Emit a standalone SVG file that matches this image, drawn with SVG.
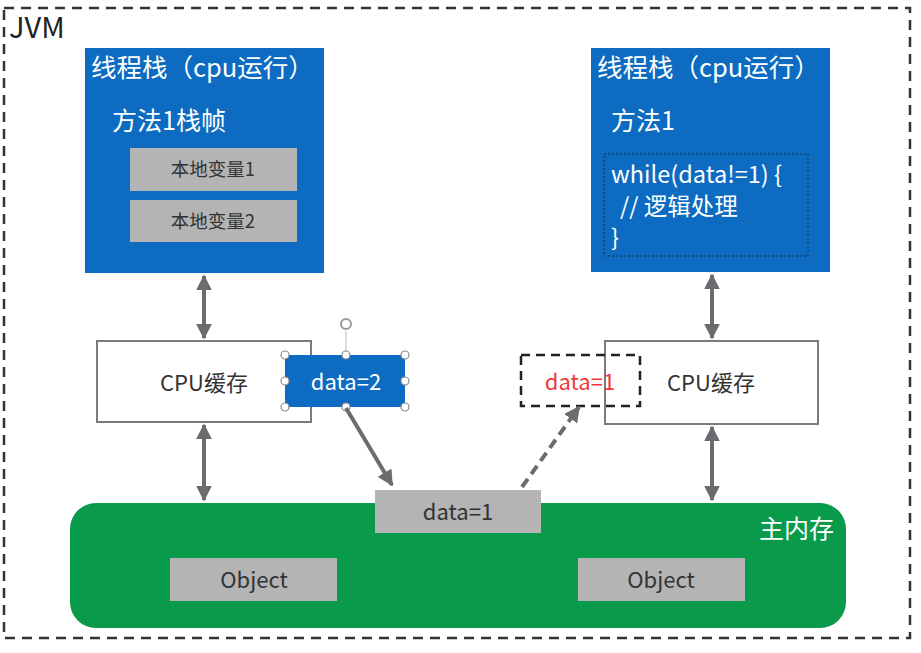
<svg xmlns="http://www.w3.org/2000/svg" width="921" height="653" viewBox="0 0 921 653">
<defs>
<style>
text{font-family:"Noto Sans CJK SC","Noto Sans",sans-serif}
.blue{fill:#0d6cc1}
.wt{fill:#ffffff}
.gray{fill:#b4b4b4}
.dk{fill:#333333}
.cpu{fill:#ffffff;stroke:#7a7a7a;stroke-width:2}
.conn{stroke:#6b6b70;stroke-width:4;fill:none}
.h{fill:#ffffff;stroke:#8a8a8a;stroke-width:1.2}
</style>
<marker id="ah" viewBox="0 0 10 10" refX="9" refY="5" markerWidth="4" markerHeight="4" orient="auto-start-reverse" markerUnits="strokeWidth">
<path d="M0,0 L10,5 L0,10 z" fill="#6b6b70"/>
</marker>
</defs>
<rect width="921" height="653" fill="#ffffff"/>
<g id="jvm">
<rect x="4" y="8" width="906" height="630" fill="none" stroke="#333" stroke-width="2.5" stroke-dasharray="10,7"/>
<text x="9" y="38" font-size="29" fill="#222">JVM</text>
</g>
<g id="stack-left">
<rect class="blue" x="85" y="48" width="239" height="225"/>
<text class="wt" x="91" y="77" font-size="25.5">线程栈（cpu运行）</text>
<text class="wt" x="112" y="130" font-size="25">方法1栈帧</text>
<rect class="gray" x="130" y="148" width="167" height="43"/>
<text class="dk" x="213" y="176" font-size="18.5" text-anchor="middle">本地变量1</text>
<rect class="gray" x="130" y="200" width="167" height="42"/>
<text class="dk" x="213" y="228" font-size="18.5" text-anchor="middle">本地变量2</text>
</g>
<g id="stack-right">
<rect class="blue" x="591" y="48" width="239" height="224"/>
<text class="wt" x="597" y="77" font-size="25.5">线程栈（cpu运行）</text>
<text class="wt" x="611" y="130" font-size="25">方法1</text>
<rect x="604" y="154" width="204" height="102" fill="none" stroke="#1a2a40" stroke-width="1" stroke-dasharray="2,2"/>
<text class="wt" x="611" y="183" font-size="23.5">while(data!=1) {</text>
<text class="wt" x="620" y="215" font-size="23.5">// 逻辑处理</text>
<text class="wt" x="611" y="246" font-size="23.5">}</text>
</g>
<g id="cpu-left">
<rect class="cpu" x="97" y="341" width="214" height="81"/>
<text class="dk" x="204" y="391" font-size="22" text-anchor="middle">CPU缓存</text>
</g>
<g id="cpu-right">
<rect class="cpu" x="605" y="341" width="213" height="83"/>
<text class="dk" x="711" y="391" font-size="22" text-anchor="middle">CPU缓存</text>
</g>
<g id="main-memory">
<rect x="70" y="503" width="776" height="125" rx="26" fill="#0a9a4c"/>
<text class="wt" x="834" y="538" font-size="25" text-anchor="end">主内存</text>
<rect class="gray" x="170" y="558" width="167" height="43"/>
<text class="dk" x="254" y="588" font-size="22" text-anchor="middle">Object</text>
<rect class="gray" x="578" y="558" width="167" height="43"/>
<text class="dk" x="661" y="588" font-size="22" text-anchor="middle">Object</text>
</g>
<g id="data-main">
<rect class="gray" x="375" y="490" width="166" height="43"/>
<text class="dk" x="458" y="520" font-size="22" text-anchor="middle">data=1</text>
</g>
<g id="data-left">
<line x1="346" y1="331" x2="346" y2="355" stroke="#bbb" stroke-width="1"/>
<circle cx="346" cy="324" r="5" fill="none" stroke="#999" stroke-width="2"/>
<rect class="blue" x="285" y="355" width="120" height="52"/>
<text class="wt" x="346" y="390" font-size="22" text-anchor="middle">data=2</text>
<circle class="h" cx="285" cy="355" r="4"/>
<circle class="h" cx="346" cy="355" r="4"/>
<circle class="h" cx="405" cy="355" r="4"/>
<circle class="h" cx="285" cy="381" r="4"/>
<circle class="h" cx="405" cy="381" r="4"/>
<circle class="h" cx="285" cy="407" r="4"/>
<circle class="h" cx="346" cy="407" r="4"/>
<circle class="h" cx="405" cy="407" r="4"/>
</g>
<g id="data-right">
<rect x="521" y="355" width="119" height="51" fill="none" stroke="#222" stroke-width="2.5" stroke-dasharray="9,6"/>
<text x="580" y="390" font-size="22" fill="#f03a3a" text-anchor="middle">data=1</text>
</g>
<g id="connectors">
<line class="conn" x1="204" y1="276" x2="204" y2="338" marker-start="url(#ah)" marker-end="url(#ah)"/>
<line class="conn" x1="712" y1="275" x2="712" y2="338" marker-start="url(#ah)" marker-end="url(#ah)"/>
<line class="conn" x1="204" y1="425" x2="204" y2="500" marker-start="url(#ah)" marker-end="url(#ah)"/>
<line class="conn" x1="712" y1="427" x2="712" y2="500" marker-start="url(#ah)" marker-end="url(#ah)"/>
<line class="conn" x1="346" y1="408" x2="392" y2="485" marker-end="url(#ah)"/>
<line class="conn" x1="522" y1="487" x2="579" y2="407" stroke-dasharray="10,6" marker-end="url(#ah)"/>
</g>
</svg>
